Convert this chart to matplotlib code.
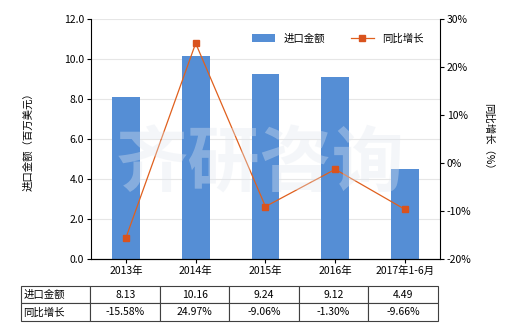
import matplotlib
matplotlib.use("Agg")
import matplotlib.pyplot as plt

plt.rcParams["font.family"] = ["Noto Sans CJK SC", "DejaVu Sans"]
plt.rcParams["font.size"] = 7.5

anos = ["2013年", "2014年", "2015年", "2016年", "2017年1-6月"]
valores = [8.13, 10.16, 9.24, 9.12, 4.49]
crescimento = [-15.58, 24.97, -9.06, -1.30, -9.66]
rotulos_valor = ["8.13", "10.16", "9.24", "9.12", "4.49"]
rotulos_cresc = ["-15.58%", "24.97%", "-9.06%", "-1.30%", "-9.66%"]
nomes_linhas = ["进口金额", "同比增长"]

COR_BARRA = "#558ED5"
COR_LINHA = "#E0601E"

fig = plt.figure(figsize=(5.2, 3.3), dpi=100)
ax = fig.add_axes([0.175, 0.215, 0.671, 0.727])
x = list(range(len(anos)))

ax.bar(x, valores, width=0.4, color=COR_BARRA, label="进口金额", zorder=2)
ax.set_ylim(0, 12)
ax.set_yticks([0, 2, 4, 6, 8, 10, 12])
ax.set_yticklabels([f"{v:.1f}" for v in ax.get_yticks()])
ax.set_xlim(-0.5, len(anos) - 0.5)
ax.set_xticks(x)
ax.set_xticklabels(anos)
ax.grid(axis="y", color="#E6E6E6", linewidth=0.8, zorder=0)
ax.spines["top"].set_visible(False)
ax.spines["right"].set_visible(False)
ax.tick_params(length=3, width=0.8, pad=2)
ax.set_ylabel("进口金额（百万美元）", labelpad=22)

ax2 = ax.twinx()
ax2.plot(x, crescimento, color=COR_LINHA, linewidth=0.9, marker="s",
         markersize=4.5, markerfacecolor="#D9531E", markeredgecolor="#D9531E",
         label="同比增长", zorder=3)
ax2.set_ylim(-20, 30)
ax2.set_yticks([-20, -10, 0, 10, 20, 30])
ax2.set_yticklabels([f"{v}%" for v in [-20, -10, 0, 10, 20, 30]])
ax2.spines["top"].set_visible(False)
ax2.spines["left"].set_visible(False)
ax2.tick_params(length=3, width=0.8, pad=2)
ax2.set_ylabel("同比增长（%）", rotation=270, labelpad=16)

# marca d'água (bem clara)
fig.text(0.5, 0.5, "齐研咨询", fontsize=52, color="#E2E8F0", alpha=0.35,
         ha="center", va="center", fontweight="bold", zorder=10)

h1, l1 = ax.get_legend_handles_labels()
h2, l2 = ax2.get_legend_handles_labels()
ax2.legend(h1 + h2, l1 + l2, loc="upper right", bbox_to_anchor=(0.98, 0.98),
           ncol=2, frameon=False, handlelength=2.2, columnspacing=2.5,
           fontsize=7.5)

# tabela de dados abaixo do gráfico (primeira coluna = nome da linha)
linhas = [[nomes_linhas[0]] + rotulos_valor, [nomes_linhas[1]] + rotulos_cresc]
tabela = ax.table(
    cellText=linhas,
    cellLoc="center",
    bbox=[-0.2006, -0.258, 1.1946, 0.1455],
)
tabela.auto_set_font_size(False)
for (r, c), cel in tabela.get_celld().items():
    cel.set_edgecolor("#404040")
    cel.set_linewidth(0.8)
    cel.get_text().set_fontsize(7.5)
    if c == 0:
        cel.get_text().set_ha("left")
        cel.PAD = 0.03

fig.savefig("out.png", dpi=100)
